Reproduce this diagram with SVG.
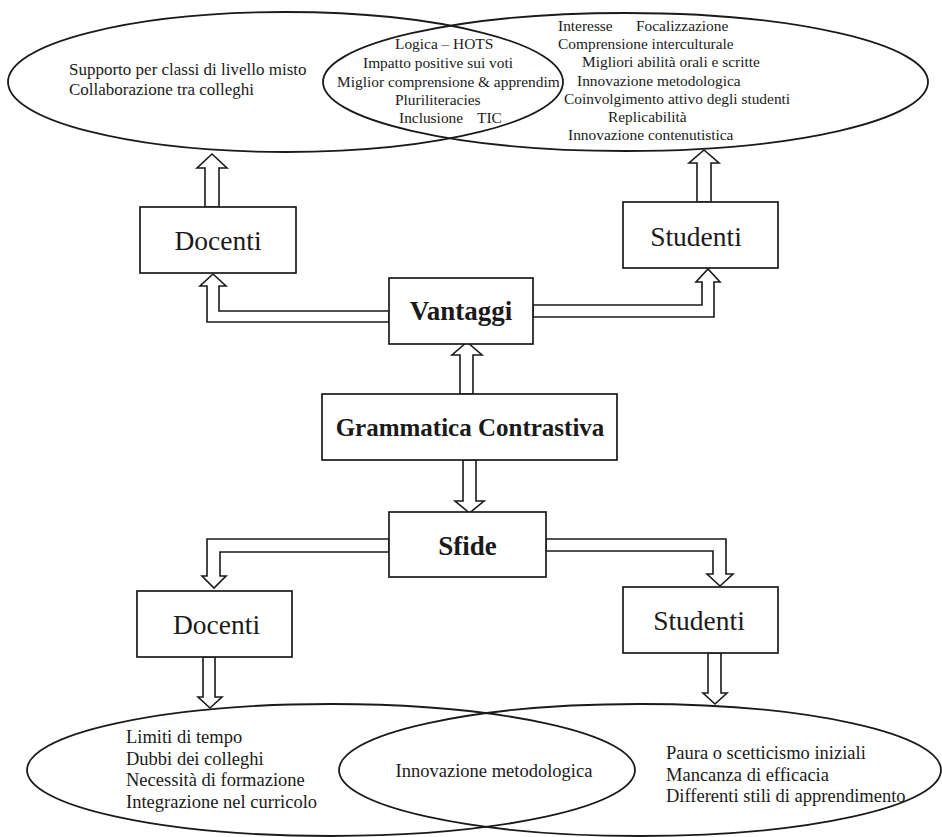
<svg xmlns="http://www.w3.org/2000/svg" width="942" height="837" viewBox="0 0 942 837">
<style>
.bg{fill:#fff}
.ell{fill:none;stroke:#1a1a1a;stroke-width:1.8}
.box{fill:#fff;stroke:#1a1a1a;stroke-width:1.7}
.arr{fill:#fff;stroke:#1a1a1a;stroke-width:1.6;stroke-linejoin:miter}
text{font-family:"Liberation Serif","Times New Roman",serif;fill:#1a1a1a}
.t17{font-size:17px}
.t15{font-size:15.4px}
.t18{font-size:18.5px}
.lbl{font-size:27.5px;text-anchor:middle}
.bold{font-weight:bold;text-anchor:middle}
</style>
<rect class="bg" x="0" y="0" width="942" height="837"/>

<g id="connectors">
  <polygon class="arr" points="205,207 205,168 197,168 212,154 227,168 219,168 219,207"/>
  <polygon class="arr" points="697,202 697,163 689,163 704,150 719,163 711,163 711,202"/>
  <polygon class="arr" points="389,311 219,311 219,286 226,286 213,274 200,286 207,286 207,322 389,322"/>
  <polygon class="arr" points="533,305 702,305 702,282 696,282 708,269 720,282 714,282 714,317 533,317"/>
  <polygon class="arr" points="460,394 460,355 452,355 467,342 482,355 473,355 473,394"/>
  <polygon class="arr" points="463,460 463,501 455,501 469.5,513 484,501 476,501 476,460"/>
  <polygon class="arr" points="389,539 207,539 207,576 202,576 214,588 226,576 220,576 220,552 389,552"/>
  <polygon class="arr" points="546,539 726,539 726,574 733,574 720,586 707,574 713,574 713,551 546,551"/>
  <polygon class="arr" points="203,657 203,697 198,697 210,708 222,697 215,697 215,657"/>
  <polygon class="arr" points="708,653 708,693 703,693 715,704 727,693 721,693 721,653"/>
</g>

<g id="vantaggi-docenti-ellipse">
  <ellipse class="ell" cx="285.5" cy="82" rx="277.5" ry="70"/>
  <text class="t17" x="69" y="75">Supporto per classi di livello misto</text>
  <text class="t17" x="69" y="94.5">Collaborazione tra colleghi</text>
</g>

<g id="vantaggi-studenti-ellipse">
  <ellipse class="ell" cx="625.5" cy="82" rx="302.5" ry="69"/>
  <text class="t15" x="558" y="31">Interesse</text>
  <text class="t15" x="636" y="31">Focalizzazione</text>
  <text class="t15" x="558" y="49">Comprensione interculturale</text>
  <text class="t15" x="582" y="67">Migliori abilità orali e scritte</text>
  <text class="t15" x="577" y="86">Innovazione metodologica</text>
  <text class="t15" x="564" y="104">Coinvolgimento attivo degli studenti</text>
  <text class="t15" x="608" y="122">Replicabilità</text>
  <text class="t15" x="568" y="140">Innovazione contenutistica</text>
</g>

<g id="vantaggi-comuni">
  <text class="t15" x="395" y="49">Logica – HOTS</text>
  <text class="t15" x="363" y="68">Impatto positive sui voti</text>
  <text class="t15" x="337" y="86.5">Miglior comprensione &amp; apprendim</text>
  <text class="t15" x="395" y="104.5">Pluriliteracies</text>
  <text class="t15" x="399" y="123">Inclusione</text>
  <text class="t15" x="477" y="123">TIC</text>
</g>

<g id="docenti-top">
  <rect class="box" x="140" y="207" width="156" height="66"/>
  <text class="lbl" x="218" y="250">Docenti</text>
</g>

<g id="studenti-top">
  <rect class="box" x="623" y="202" width="155" height="66"/>
  <text class="lbl" x="696" y="246">Studenti</text>
</g>

<g id="vantaggi">
  <rect class="box" x="389" y="278" width="144" height="66"/>
  <text class="bold" x="461" y="320" font-size="27">Vantaggi</text>
</g>

<g id="grammatica-contrastiva">
  <rect class="box" x="322" y="394" width="295" height="66"/>
  <text class="bold" x="470" y="436" font-size="25">Grammatica Contrastiva</text>
</g>

<g id="sfide">
  <rect class="box" x="389" y="512" width="157" height="65"/>
  <text class="bold" x="467.5" y="555" font-size="27">Sfide</text>
</g>

<g id="docenti-bottom">
  <rect class="box" x="137" y="591" width="155" height="66"/>
  <text class="lbl" x="216.5" y="634">Docenti</text>
</g>

<g id="studenti-bottom">
  <rect class="box" x="623" y="587" width="155" height="66"/>
  <text class="lbl" x="699" y="630">Studenti</text>
</g>

<g id="sfide-docenti-ellipse">
  <ellipse class="ell" cx="331" cy="770" rx="304" ry="66"/>
  <text class="t18" x="126" y="743">Limiti di tempo</text>
  <text class="t18" x="126" y="764.5">Dubbi dei colleghi</text>
  <text class="t18" x="126" y="786">Necessità di formazione</text>
  <text class="t18" x="126" y="807.5">Integrazione nel curricolo</text>
</g>

<g id="sfide-studenti-ellipse">
  <ellipse class="ell" cx="640" cy="770" rx="301" ry="66"/>
  <text class="t18" x="666" y="759">Paura o scetticismo iniziali</text>
  <text class="t18" x="666" y="780.5">Mancanza di efficacia</text>
  <text class="t18" x="666" y="802">Differenti stili di apprendimento</text>
</g>

<g id="sfide-comuni">
  <text class="t18" x="494" y="777" text-anchor="middle">Innovazione metodologica</text>
</g>
</svg>
